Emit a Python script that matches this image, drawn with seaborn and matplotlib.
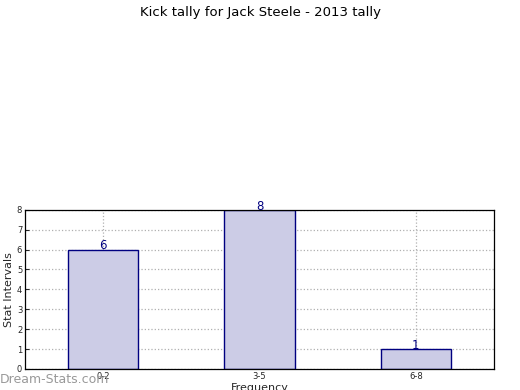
from matplotlib import pyplot as plt
import pandas as pd
import seaborn as sns

# Kick tally distribution
intervals = ["0-2", "3-5", "6-8"]
counts = [6, 8, 1]

df = pd.DataFrame({"interval": intervals, "count": counts})

sns.set_style("white")
plt.rcParams["font.family"] = ["DejaVu Sans"]

fig = plt.figure(figsize=(5.2, 3.9), dpi=100)
ax = fig.add_axes([0.048, 0.054, 0.902, 0.408])

sns.barplot(data=df, x="interval", y="count", ax=ax, width=0.45,
            color="#ccccE6", saturation=1, edgecolor="#000080",
            linewidth=1)

for i, v in enumerate(counts):
    ax.annotate(str(v), (i, v), xytext=(0, -2), textcoords="offset points",
                ha="center", va="bottom", color="#000080", fontsize=8.5)

ax.set_xlim(-0.5, 2.5)
ax.set_ylim(0, 8)
ax.set_yticks(range(0, 9))
ax.grid(True, linestyle=":", color="#b0b0b0", linewidth=0.9)
ax.set_axisbelow(True)
ax.tick_params(axis="both", labelsize=6, direction="in", length=3,
               left=True, bottom=True, pad=2)
for s in ax.spines.values():
    s.set_color("black")
    s.set_linewidth(0.9)

ax.set_xlabel("Frequency", fontsize=8, labelpad=2)
ax.set_ylabel("Stat Intervals", fontsize=8, labelpad=2)
fig.suptitle("Kick tally for Jack Steele - 2013 tally", fontsize=9.5,
             y=0.985, color="black")
fig.text(0.0, 0.01, "Dream-Stats.com", fontsize=9, color="#999999",
         ha="left", va="bottom")

fig.savefig("out.png", dpi=100)
